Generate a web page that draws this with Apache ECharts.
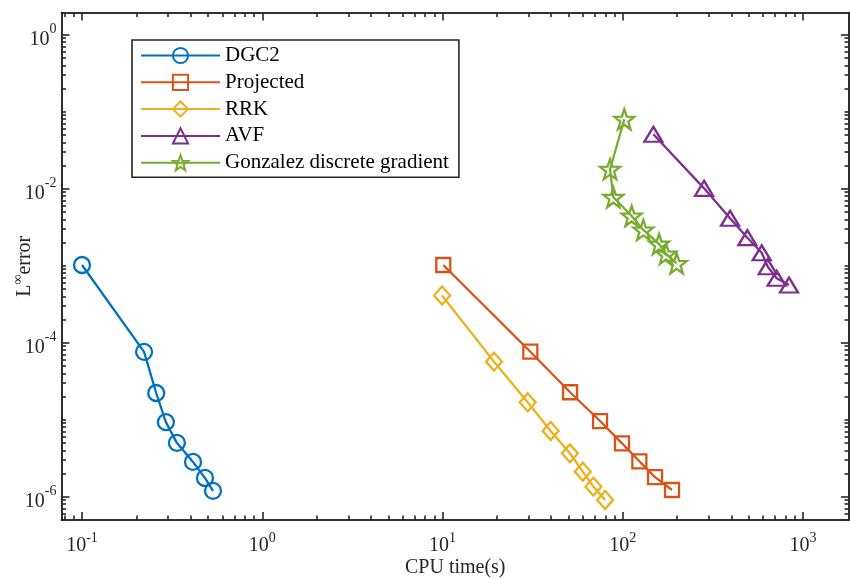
<!DOCTYPE html>
<html>
<head>
  <meta charset="utf-8" />
  <script src="https://cdn.jsdelivr.net/npm/echarts@6/dist/echarts.min.js"></script>
  <style>
    html, body { margin: 0; padding: 0; background: #fff; }
    #main { width: 850px; height: 579px; }
  </style>
</head>
<body>
  <div id="main"></div>
  <script>
    // CPU time (s) and L-infinity error
    const dgc2Time = [0.1, 0.221, 0.258, 0.292, 0.336, 0.413, 0.481, 0.533];
    const dgc2Err = [1.02e-3, 7.6e-5, 2.22e-5, 9.3e-6, 5.0e-6, 2.83e-6, 1.75e-6, 1.19e-6];

    const projTime = [10.1, 30.7, 51, 74.8, 99, 123.6, 151, 187.6];
    const projErr = [1.02e-3, 7.63e-5, 2.27e-5, 9.6e-6, 4.93e-6, 2.88e-6, 1.79e-6, 1.22e-6];

    const rrkTime = [9.94, 19.3, 29.7, 39.8, 50.9, 60, 68.7, 79.8];
    const rrkErr = [4.1e-4, 5.67e-5, 1.68e-5, 7.13e-6, 3.66e-6, 2.11e-6, 1.35e-6, 9.06e-7];

    const avfTime = [147.8, 282.5, 393.6, 491, 590, 637, 714, 836];
    const avfErr = [0.0508, 0.0101, 4.13e-3, 2.31e-3, 1.47e-3, 9.7e-4, 6.86e-4, 5.61e-4];

    const gonzTime = [102, 85, 88.7, 112, 130, 159, 174, 199];
    const gonzErr = [0.0797, 0.0179, 7.73e-3, 4.42e-3, 2.91e-3, 1.91e-3, 1.42e-3, 1.07e-3];

    // axis range in log10 units, labelled decades
    const xRange = [-1.1137, 3.255];
    const yRange = [-6.303, 0.288];
    const xMajor = [-1, 0, 1, 2, 3];
    const yMajor = [-6, -4, -2, 0];

    const FONT = 'Liberation Serif';
    const INK = '#262626';

    function minorTicks(range, major) {
      const out = [];
      for (let n = Math.floor(range[0]); n <= Math.ceil(range[1]); n++) {
        for (let k = 1; k <= 9; k++) {
          const v = n + Math.log10(k);
          if (v < range[0] || v > range[1]) continue;
          if (major.some(m => Math.abs(m - v) < 1e-9)) continue;
          out.push(v);
        }
      }
      return out;
    }

    function toPoints(ts, es) {
      return ts.map((t, i) => [Math.log10(t), Math.log10(es[i])]);
    }

    function powLabel(v) {
      return '{b|10}{s|' + Math.round(v) + '}';
    }

    function tickRich(shift) {
      return {
        b: { fontFamily: FONT, fontSize: 20, color: INK, padding: [shift, 0, 0, 0] },
        s: { fontFamily: FONT, fontSize: 14, color: INK, padding: [0, 0, 10, 0] }
      };
    }

    function axisOf(dim, position, ticks, len, labels, extra) {
      const range = dim === 'x' ? xRange : yRange;
      const a = {
        type: 'value',
        position: position,
        min: range[0],
        max: range[1],
        axisLine: { show: true, onZero: false, lineStyle: { color: INK, width: 1.6 } },
        axisTick: { show: true, inside: true, length: len, customValues: ticks, lineStyle: { color: INK, width: 1.6 } },
        axisLabel: { show: false },
        splitLine: { show: false }
      };
      if (labels) {
        a.axisLabel = {
          show: true,
          customValues: labels,
          formatter: powLabel,
          rich: tickRich(dim === 'x' ? 6 : 10),
          margin: dim === 'x' ? 10 : 5
        };
      }
      return Object.assign(a, extra || {});
    }

    const xMinor = minorTicks(xRange, xMajor);
    const yMinor = minorTicks(yRange, yMajor);

    const chart = echarts.init(document.getElementById('main'));

    function series(name, ts, es, color, symbol, size) {
      return {
        name: name,
        type: 'line',
        xAxisIndex: 0,
        yAxisIndex: 0,
        data: toPoints(ts, es),
        symbol: symbol,
        symbolSize: size,
        showAllSymbol: true,
        lineStyle: { color: color, width: 2.3 },
        itemStyle: { color: 'rgba(0,0,0,0)', borderColor: color, borderWidth: 2.3 },
        emphasis: { disabled: true },
        z: 3
      };
    }

    const star = 'path://M0,-10L2.35,-3.24L9.51,-3.09L3.8,1.24L5.88,8.09L0,4L-5.88,8.09L-3.8,1.24L-9.51,-3.09L-2.35,-3.24Z';

    chart.setOption({
      animation: false,
      backgroundColor: '#fff',
      grid: { left: 61.5, right: 1, top: 12.5, bottom: 59, outerBoundsMode: 'none', containLabel: false },
      legend: {
        orient: 'vertical',
        left: 132,
        top: 40,
        padding: [5, 10, 4, 8],
        itemWidth: 79,
        itemHeight: 19,
        itemGap: 5.8,
        backgroundColor: '#fff',
        borderColor: INK,
        borderWidth: 1.6,
        selectedMode: false,
        textStyle: { fontFamily: FONT, fontSize: 21, color: '#000', lineHeight: 20 },
        data: ['DGC2', 'Projected', 'RRK', 'AVF', 'Gonzalez discrete gradient']
      },
      xAxis: [
        axisOf('x', 'bottom', xMajor, 8, xMajor, {
          name: 'CPU time(s)',
          nameLocation: 'middle',
          nameGap: 38,
          nameMoveOverlap: false,
          nameTextStyle: { fontFamily: FONT, fontSize: 20, color: INK }
        }),
        axisOf('x', 'bottom', xMinor, 4.5, null),
        axisOf('x', 'top', xMajor, 8, null),
        axisOf('x', 'top', xMinor, 4.5, null)
      ],
      yAxis: [
        axisOf('y', 'left', yMajor, 8, yMajor, {
          name: '{t|L}{s|∞}{t|error}',
          nameLocation: 'middle',
          nameGap: 27,
          nameRotate: 90,
          nameMoveOverlap: false,
          nameTextStyle: {
            rich: {
              t: { fontFamily: FONT, fontSize: 20, color: INK, padding: [4, 0, 0, 0] },
              s: { fontFamily: FONT, fontSize: 14, color: INK, padding: [0, 0, 8, 0] }
            }
          }
        }),
        axisOf('y', 'left', yMinor, 4.5, null),
        axisOf('y', 'right', yMajor, 8, null),
        axisOf('y', 'right', yMinor, 4.5, null)
      ],
      series: [
        series('DGC2', dgc2Time, dgc2Err, '#0072BD', 'circle', 16),
        series('Projected', projTime, projErr, '#D95319', 'rect', 14),
        series('RRK', rrkTime, rrkErr, '#EDB120', 'diamond', [16, 18]),
        series('AVF', avfTime, avfErr, '#7E2F8E', 'triangle', [18, 15]),
        series('Gonzalez discrete gradient', gonzTime, gonzErr, '#77AC30', star, 20)
      ]
    });
  </script>
</body>
</html>
